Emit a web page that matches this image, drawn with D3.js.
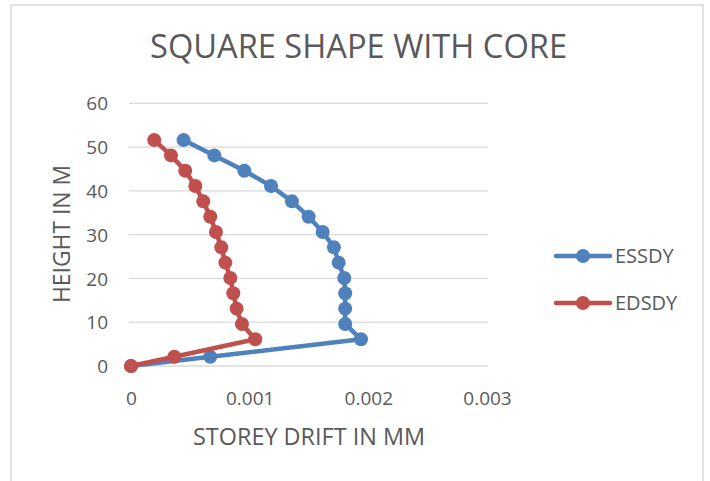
<!DOCTYPE html>
<html>
<head>
<meta charset="utf-8">
<script src="https://cdn.jsdelivr.net/npm/d3@7"></script>
<style>
  html, body { margin: 0; padding: 0; background: #fff; }
  svg { display: block; font-family: "Open Sans", "Liberation Sans", sans-serif; }
</style>
</head>
<body>
<svg id="chart" width="710" height="481"></svg>
<script>
// ---- Data ----
const heights = [0, 2.1, 6.1, 9.6, 13.1, 16.6, 20.1, 23.6, 27.1, 30.6, 34.1, 37.6, 41.1, 44.6, 48.1, 51.6];
const essdy = [0, 0.000668, 0.001938, 0.001805, 0.001805, 0.001805, 0.001797, 0.00175, 0.00171, 0.001615, 0.001497, 0.001356, 0.00118, 0.000955, 0.000702, 0.000443];
const edsdy = [0, 0.000365, 0.001047, 0.000935, 0.00089, 0.000862, 0.000837, 0.000795, 0.000761, 0.000716, 0.000668, 0.000609, 0.000542, 0.000457, 0.000337, 0.000196];
const seriesNames = ["ESSDY", "EDSDY"];
const seriesColors = ["#4F81BD", "#C0504D"];
const xTicks = [0, 0.001, 0.002, 0.003];
const xTickLabels = ["0", "0.001", "0.002", "0.003"];
const yTicks = [0, 10, 20, 30, 40, 50, 60];
const titleText = "SQUARE SHAPE WITH CORE";
const xTitle = "STOREY DRIFT IN MM";
const yTitle = "HEIGHT IN M";

// ---- Layout ----
const svg = d3.select("#chart");
const textColor = "#595959";
const gridColor = "#D9D9D9";

// chart border
svg.append("rect")
  .attr("x", 11).attr("y", 5).attr("width", 692).attr("height", 490)
  .attr("fill", "#fff").attr("stroke", gridColor).attr("stroke-width", 1.5);

const x = d3.scaleLinear().domain([0, 0.003]).range([131, 487]);
const y = d3.scaleLinear().domain([0, 60]).range([366, 103.3]);

// gridlines
svg.append("g").selectAll("line").data(yTicks).join("line")
  .attr("x1", 129).attr("x2", 488)
  .attr("y1", d => y(d)).attr("y2", d => y(d))
  .attr("stroke", gridColor).attr("stroke-width", 1.3);

// y axis labels
const yAxis = d3.axisLeft(y).tickValues(yTicks).tickSize(0).tickPadding(0).tickFormat(d3.format("d"));
const gy = svg.append("g").attr("transform", "translate(108,0)").call(yAxis);
gy.select(".domain").remove();
gy.selectAll("text").attr("fill", textColor).attr("font-size", 19)
  .attr("font-family", "'Open Sans', sans-serif").attr("dy", "0.35em");

// x axis labels
const xAxis = d3.axisBottom(x).tickValues(xTicks).tickSize(0).tickPadding(0)
  .tickFormat((d, i) => xTickLabels[i]);
const gx = svg.append("g").attr("transform", "translate(0,405)").call(xAxis);
gx.select(".domain").remove();
gx.selectAll("text").attr("fill", textColor).attr("font-size", 19)
  .attr("font-family", "'Open Sans', sans-serif").attr("dy", 0).attr("y", 0);

// titles
svg.append("text").attr("x", 358.5).attr("y", 58).attr("text-anchor", "middle")
  .attr("fill", textColor).attr("font-size", 32)
  .attr("textLength", 417).attr("lengthAdjust", "spacingAndGlyphs")
  .text(titleText);

svg.append("text").attr("x", 309).attr("y", 445).attr("text-anchor", "middle")
  .attr("fill", textColor).attr("font-size", 23)
  .attr("textLength", 232).attr("lengthAdjust", "spacingAndGlyphs")
  .text(xTitle);

svg.append("text").attr("transform", "translate(70,234) rotate(-90)").attr("text-anchor", "middle")
  .attr("fill", textColor).attr("font-size", 23)
  .attr("textLength", 138).attr("lengthAdjust", "spacingAndGlyphs")
  .text(yTitle);

// series
const allSeries = [essdy, edsdy];
const line = d3.line().x(d => x(d[0])).y(d => y(d[1]));
allSeries.forEach((vals, si) => {
  const pts = vals.map((v, i) => [v, heights[i]]);
  const g = svg.append("g");
  g.append("path").datum(pts).attr("d", line)
    .attr("fill", "none").attr("stroke", seriesColors[si]).attr("stroke-width", 4.5)
    .attr("stroke-linejoin", "round").attr("stroke-linecap", "round");
  g.selectAll("circle").data(pts).join("circle")
    .attr("cx", d => x(d[0])).attr("cy", d => y(d[1])).attr("r", 7)
    .attr("fill", seriesColors[si]);
});

// legend
const legY = d3.scaleOrdinal().domain(seriesNames).range([256, 303]);
const leg = svg.append("g").selectAll("g").data(seriesNames).join("g")
  .attr("transform", d => `translate(0,${legY(d)})`);
leg.append("line").attr("x1", 556).attr("x2", 610).attr("y1", 0).attr("y2", 0)
  .attr("stroke", (d, i) => seriesColors[i]).attr("stroke-width", 4.5).attr("stroke-linecap", "round");
leg.append("circle").attr("cx", 583).attr("cy", 0).attr("r", 7)
  .attr("fill", (d, i) => seriesColors[i]);
leg.append("text").attr("x", 615).attr("y", 7).attr("fill", textColor)
  .attr("font-size", 20).text(d => d);
</script>
</body>
</html>
